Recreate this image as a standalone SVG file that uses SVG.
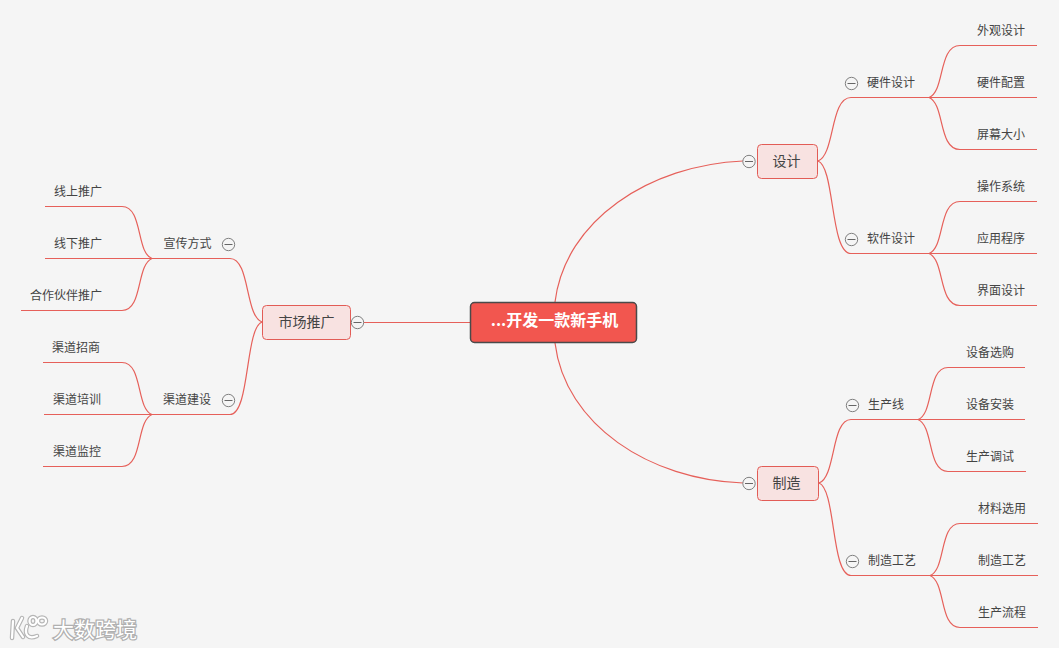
<svg xmlns="http://www.w3.org/2000/svg" width="1059" height="648" viewBox="0 0 1059 648">
<style>
text{font-family:"Noto Sans CJK SC","Noto Sans",sans-serif;text-anchor:middle;dominant-baseline:central;fill:#444}
.l{font-size:12px}
.m{font-size:14px}
.c{fill:none;stroke:#e6605a;stroke-width:1.2}
.n{fill:#f8e2e1;stroke:#e25c56;stroke-width:1}
.t circle{fill:#f5f5f5;stroke:#808080;stroke-width:1}
.t line{stroke:#666;stroke-width:1}
</style>
<defs>
<g id="tog" class="t"><circle r="6.2"/><line x1="-4" x2="4" y1="0" y2="0"/></g>
</defs>
<rect width="1059" height="648" fill="#f5f5f5"/>
<g id="connectors" class="c">
<path d="M555 302C565 220 650 165 743 161"/>
<path d="M555 343C565 425 650 480 743 483"/>
<path d="M470 322.500H363"/>
<path d="M818 161C835 155 830 97.500 851 97.500H929"/>
<path d="M818 161C835 167 830 253.500 851 253.500H929"/>
<path d="M929 97.500C945 92 938 45.500 960 45.500H1037"/>
<path d="M929 97.500H1037"/>
<path d="M929 97.500C945 104 938 149.500 960 149.500H1037"/>
<path d="M929 253.500C945 248 938 201.500 960 201.500H1037"/>
<path d="M929 253.500H1037"/>
<path d="M929 253.500C945 260 938 305.500 960 305.500H1037"/>
<path d="M819 483C836 477 831 419.500 851 419.500H918"/>
<path d="M819 483C836 489 831 575.500 851 575.500H930"/>
<path d="M918 419.500C934 414 927 367.500 948 367.500H1025"/>
<path d="M918 419.500H1025"/>
<path d="M918 419.500C934 426 927 471.500 948 471.500H1026"/>
<path d="M930 575.500C946 570 939 523.500 960 523.500H1038"/>
<path d="M930 575.500H1038"/>
<path d="M930 575.500C946 582 939 627.500 960 627.500H1038"/>
<path d="M262 322C245 316 250 258.500 230 258.500H152"/>
<path d="M262 322C245 328 250 414.500 230 414.500H152"/>
<path d="M152 258.500C136 253 143 206.500 122 206.500H45"/>
<path d="M152 258.500H45"/>
<path d="M152 258.500C136 265 143 310.500 122 310.500H21"/>
<path d="M152 414.500C136 409 143 362.500 122 362.500H43"/>
<path d="M152 414.500H44"/>
<path d="M152 414.500C136 421 143 466.500 122 466.500H43"/>
</g>
<g id="root"><rect x="470.5" y="302.500" width="166" height="40" rx="4" fill="#f2564f" stroke="#4a4a4a" stroke-width="1.500"/><text x="554.500" y="319" style="font-size:16px;font-weight:700;fill:#fff">...开发一款新手机</text></g>
<g id="n-sheji"><rect class="n" x="757.500" y="144.500" width="60" height="34" rx="4"/><text class="m" x="786.500" y="159.500">设计</text><use href="#tog" x="749" y="161.500"/></g>
<g id="n-zhizao"><rect class="n" x="757.500" y="466.500" width="61" height="34" rx="4"/><text class="m" x="786.500" y="481.500">制造</text><use href="#tog" x="749" y="483.500"/></g>
<g id="n-shichang"><rect class="n" x="262.500" y="305.500" width="88" height="34" rx="4"/><text class="m" x="306.500" y="320.500">市场推广</text><use href="#tog" x="357.500" y="322.500"/></g>
<g id="n-yingjian"><use href="#tog" x="851.500" y="83.500"/><text class="l" x="891" y="81.500">硬件设计</text></g>
<g id="n-ruanjian"><use href="#tog" x="851.500" y="239.500"/><text class="l" x="891" y="237.500">软件设计</text></g>
<g id="n-shengchan"><use href="#tog" x="852.500" y="405.500"/><text class="l" x="886" y="403.500">生产线</text></g>
<g id="n-gongyi"><use href="#tog" x="852.500" y="561.500"/><text class="l" x="892" y="559.500">制造工艺</text></g>
<g id="n-xuanchuan"><use href="#tog" x="228.500" y="244.500"/><text class="l" x="187.500" y="242.500">宣传方式</text></g>
<g id="n-qudao"><use href="#tog" x="228.500" y="400.500"/><text class="l" x="187" y="398.500">渠道建设</text></g>
<g id="leaves" class="l">
<text x="1001" y="29.500">外观设计</text>
<text x="1001" y="81.500">硬件配置</text>
<text x="1001" y="133.500">屏幕大小</text>
<text x="1001" y="185.500">操作系统</text>
<text x="1001" y="237.500">应用程序</text>
<text x="1001" y="289.500">界面设计</text>
<text x="990" y="351.500">设备选购</text>
<text x="990" y="403.500">设备安装</text>
<text x="990" y="455.500">生产调试</text>
<text x="1002" y="507.500">材料选用</text>
<text x="1002" y="559.500">制造工艺</text>
<text x="1002" y="611.500">生产流程</text>
<text x="78" y="190.500">线上推广</text>
<text x="78" y="242.500">线下推广</text>
<text x="66" y="294.500">合作伙伴推广</text>
<text x="76" y="346.500">渠道招商</text>
<text x="77" y="398.500">渠道培训</text>
<text x="77" y="450.500">渠道监控</text>
</g>
<g id="watermark">
<g fill="none" stroke="#b5b5b5" stroke-width="4.500" stroke-linecap="round"><path d="M13 621L12 638M22 618L17 628L23 637M27 626C24 634 28 640 37 636"/><ellipse cx="33" cy="621" rx="3.500" ry="4"/><ellipse cx="42" cy="621" rx="4" ry="3.500"/></g>
<g fill="none" stroke="#fff" stroke-width="2.200" stroke-linecap="round"><path d="M13 621L12 638M22 618L17 628L23 637M27 626C24 634 28 640 37 636"/><ellipse cx="33" cy="621" rx="3.500" ry="4"/><ellipse cx="42" cy="621" rx="4" ry="3.500"/></g>
<text x="95" y="628" style="font-size:21px;fill:#fff;stroke:#b0b0b0;stroke-width:2.500;paint-order:stroke">大数跨境</text>
</g>
</svg>
